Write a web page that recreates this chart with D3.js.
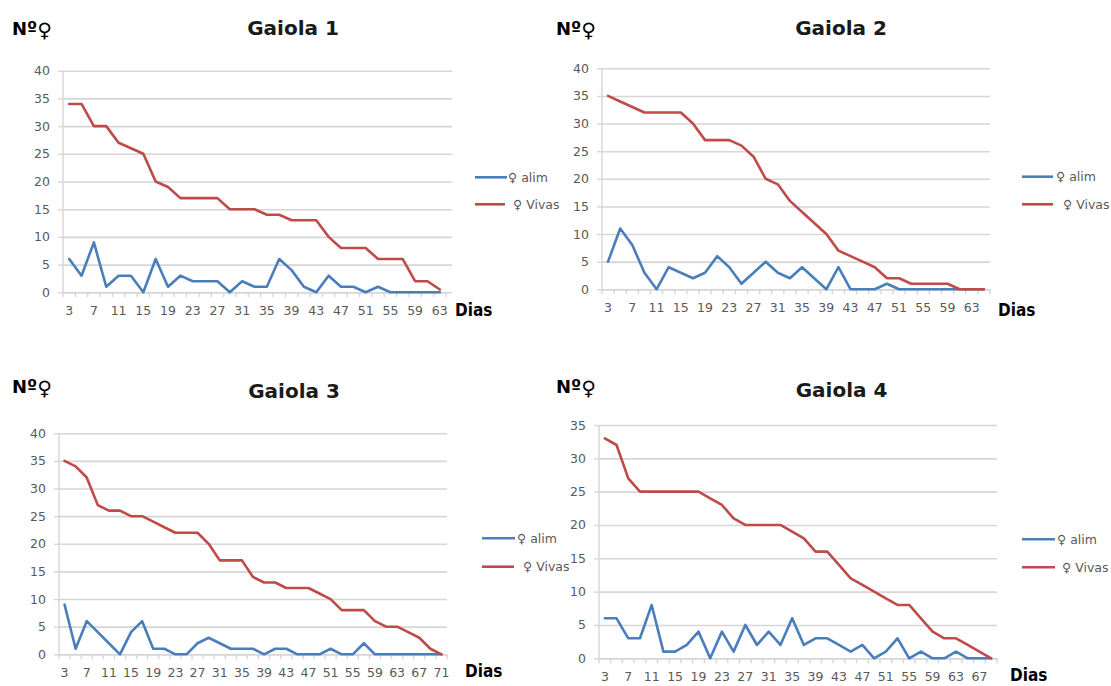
<!DOCTYPE html>
<html>
<head>
<meta charset="utf-8">
<script src="https://cdn.jsdelivr.net/npm/d3@7"></script>
<style>
  html, body { margin: 0; padding: 0; background: #ffffff; }
  svg { display: block; }
</style>
</head>
<body>
<svg id="chart" width="1111" height="686"></svg>
<script>
// ---------- DATA ----------
const g1Days  = [3,5,7,9,11,13,15,17,19,21,23,25,27,29,31,33,35,37,39,41,43,45,47,49,51,53,55,57,59,61,63];
const g1Alim  = [6,3,9,1,3,3,0,6,1,3,2,2,2,0,2,1,1,6,4,1,0,3,1,1,0,1,0,0,0,0,0];
const g1Vivas = [34,34,30,30,27,26,25,20,19,17,17,17,17,15,15,15,14,14,13,13,13,10,8,8,8,6,6,6,2,2,0.5];

const g2Days  = [3,5,7,9,11,13,15,17,19,21,23,25,27,29,31,33,35,37,39,41,43,45,47,49,51,53,55,57,59,61,63,65];
const g2Alim  = [5,11,8,3,0,4,3,2,3,6,4,1,3,5,3,2,4,2,0,4,0,0,0,1,0,0,0,0,0,0,0,0];
const g2Vivas = [35,34,33,32,32,32,32,30,27,27,27,26,24,20,19,16,14,12,10,7,6,5,4,2,2,1,1,1,1,0,0,0];

const g3Days  = [3,5,7,9,11,13,15,17,19,21,23,25,27,29,31,33,35,37,39,41,43,45,47,49,51,53,55,57,59,61,63,65,67,69,71];
const g3Alim  = [9,1,6,4,2,0,4,6,1,1,0,0,2,3,2,1,1,1,0,1,1,0,0,0,1,0,0,2,0,0,0,0,0,0,0];
const g3Vivas = [35,34,32,27,26,26,25,25,24,23,22,22,22,20,17,17,17,14,13,13,12,12,12,11,10,8,8,8,6,5,5,4,3,1,0];

const g4Days  = [3,5,7,9,11,13,15,17,19,21,23,25,27,29,31,33,35,37,39,41,43,45,47,49,51,53,55,57,59,61,63,65,67,69];
const g4Alim  = [6,6,3,3,8,1,1,2,4,0,4,1,5,2,4,2,6,2,3,3,2,1,2,0,1,3,0,1,0,0,1,0,0,0];
const g4Vivas = [33,32,27,25,25,25,25,25,25,24,23,21,20,20,20,20,19,18,16,16,14,12,11,10,9,8,8,6,4,3,3,2,1,0];

const titles = ["Gaiola 1", "Gaiola 2", "Gaiola 3", "Gaiola 4"];
const yTicks40 = [0,5,10,15,20,25,30,35,40];
const yTicks35 = [0,5,10,15,20,25,30,35];
const seriesNames = ["\u2640 alim", "\u2640 Vivas"];
const yLabel = "N\u00BA";
const xLabel = "Dias";

// ---------- LAYOUT ----------
const panels = [
  { days: g1Days, alim: g1Alim, vivas: g1Vivas, title: titles[0], ticks: yTicks40,
    x0: 63, x1: 446, gridR: 452, y0: 292.3, yT: 70.7,
    tX: 293, tY: 35, nX: 12, nY: 35, dX: 455, dY: 316,
    lX: 475, lW1: 32, lW2: 30, lY1: 177.3, lY2: 204.3, lT1: 508, lT2: 513 },
  { days: g2Days, alim: g2Alim, vivas: g2Vivas, title: titles[1], ticks: yTicks40,
    x0: 602, x1: 990, gridR: 990, y0: 289.3, yT: 68.3,
    tX: 841, tY: 35, nX: 556, nY: 35, dX: 998, dY: 316,
    lX: 1022, lW1: 31, lW2: 31, lY1: 176.7, lY2: 204.3, lT1: 1056, lT2: 1063 },
  { days: g3Days, alim: g3Alim, vivas: g3Vivas, title: titles[2], ticks: yTicks40,
    x0: 59, x1: 447, gridR: 447, y0: 654.3, yT: 433.3,
    tX: 294, tY: 398, nX: 12, nY: 393, dX: 465, dY: 677,
    lX: 482, lW1: 33, lW2: 32, lY1: 538.3, lY2: 566.7, lT1: 517, lT2: 523 },
  { days: g4Days, alim: g4Alim, vivas: g4Vivas, title: titles[3], ticks: yTicks35,
    x0: 599, x1: 997, gridR: 997, y0: 658.3, yT: 425,
    tX: 841.5, tY: 397, nX: 556, nY: 393, dX: 1010, dY: 681,
    lX: 1022, lW1: 33, lW2: 33, lY1: 539.3, lY2: 567.3, lT1: 1057, lT2: 1062 }
];

const BLUE = "#4a7ebb";
const RED = "#be4b48";
const GRID = "#d6d6d6";
const TXT = "#595959";
const tickFont = "'DejaVu Sans', sans-serif";

const svg = d3.select("#chart");

panels.forEach(p => {
  const g = svg.append("g");
  const yMax = p.ticks[p.ticks.length - 1];
  const x = d3.scaleBand().domain(p.days).range([p.x0, p.x1]);
  const y = d3.scaleLinear().domain([0, yMax]).range([p.y0, p.yT]);
  const cx = d => x(d) + x.bandwidth() / 2;

  // gridlines
  const grid = g.append("g").attr("transform", `translate(${p.x0},0)`)
    .call(d3.axisLeft(y).tickValues(p.ticks).tickSize(-(p.gridR - p.x0)).tickFormat(""));
  grid.select(".domain").remove();
  grid.selectAll("line").attr("stroke", GRID).attr("stroke-width", 1.6);

  // y axis with labels and small outer ticks
  const ya = g.append("g").attr("transform", `translate(${p.x0},0)`)
    .call(d3.axisLeft(y).tickValues(p.ticks).tickSize(5).tickPadding(8));
  ya.select(".domain").attr("stroke", GRID).attr("stroke-width", 1.4).attr("d", `M0,${p.yT}V${p.y0}`);
  ya.selectAll("line").attr("stroke", GRID).attr("stroke-width", 1.4);
  ya.selectAll("text").attr("fill", TXT).style("font-family", tickFont).style("font-size", "12.5px");

  // x axis labels (every other category)
  const xa = g.append("g").attr("transform", `translate(0,${p.y0})`)
    .call(d3.axisBottom(x).tickSize(0).tickPadding(14)
      .tickFormat((d, i) => (i % 2 === 0 ? d : "")));
  xa.select(".domain").attr("stroke", GRID).attr("stroke-width", 1.6);
  xa.selectAll("text").attr("fill", TXT).style("font-family", tickFont).style("font-size", "12.5px");

  // x tick marks at category boundaries
  const edges = p.days.map(d => x(d)).concat([p.x1]);
  g.append("g").selectAll("line").data(edges).join("line")
    .attr("x1", d => d).attr("x2", d => d)
    .attr("y1", p.y0).attr("y2", p.y0 + 5)
    .attr("stroke", GRID).attr("stroke-width", 1.4);

  // lines
  const line = d3.line().x((v, i) => cx(p.days[i])).y(v => y(v));
  g.append("path").datum(p.alim).attr("d", line)
    .attr("fill", "none").attr("stroke", BLUE).attr("stroke-width", 2.6)
    .attr("stroke-linejoin", "round").attr("stroke-linecap", "round");
  g.append("path").datum(p.vivas).attr("d", line)
    .attr("fill", "none").attr("stroke", RED).attr("stroke-width", 2.6)
    .attr("stroke-linejoin", "round").attr("stroke-linecap", "round");

  // title
  g.append("text").attr("x", p.tX).attr("y", p.tY).attr("text-anchor", "middle")
    .style("font-family", "'DejaVu Sans', sans-serif").style("font-weight", "bold")
    .style("font-size", "20px").attr("fill", "#1a1a1a").text(p.title);

  // y label Nº♀
  const nt = g.append("text").attr("x", p.nX).attr("y", p.nY)
    .style("font-family", "'DejaVu Sans', sans-serif").attr("fill", "#000");
  nt.append("tspan").style("font-weight", "bold").style("font-size", "18px").text(yLabel);
  nt.append("tspan").style("font-size", "20px").attr("dy", 2).text("\u2640");

  // x label Dias
  g.append("text").attr("x", p.dX).attr("y", p.dY)
    .style("font-family", "'Liberation Sans Narrow', 'DejaVu Sans Condensed', sans-serif")
    .style("font-weight", "bold").style("font-size", "17px").attr("fill", "#000").text(xLabel);

  // legend
  g.append("line").attr("x1", p.lX).attr("x2", p.lX + p.lW1).attr("y1", p.lY1).attr("y2", p.lY1)
    .attr("stroke", BLUE).attr("stroke-width", 2.6);
  g.append("line").attr("x1", p.lX).attr("x2", p.lX + p.lW2).attr("y1", p.lY2).attr("y2", p.lY2)
    .attr("stroke", RED).attr("stroke-width", 2.6);
  g.append("text").attr("x", p.lT1).attr("y", p.lY1 + 4.5)
    .style("font-family", tickFont).style("font-size", "12.5px").attr("fill", TXT).text(seriesNames[0]);
  g.append("text").attr("x", p.lT2).attr("y", p.lY2 + 4.5)
    .style("font-family", tickFont).style("font-size", "12.5px").attr("fill", TXT).text(seriesNames[1]);
});
</script>
</body>
</html>
